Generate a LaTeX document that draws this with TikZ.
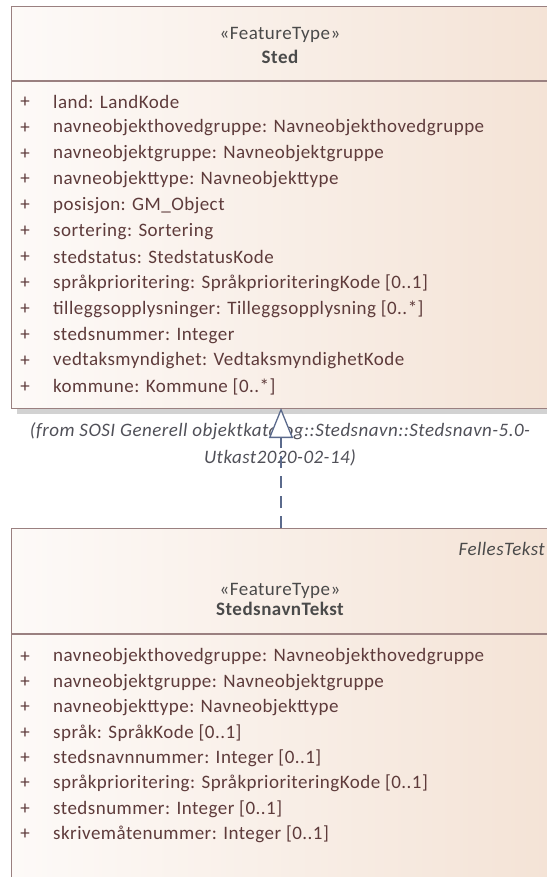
\documentclass[tikz,border=0pt]{standalone}
\usepackage{fontspec}
\setmainfont{Carlito}[LetterSpace=2.5]
\usetikzlibrary{arrows.meta}
\definecolor{bordc}{HTML}{9A8080}
\definecolor{fillL}{HTML}{FDFAF8}
\definecolor{fillR}{HTML}{F4E3D6}
\definecolor{attrc}{HTML}{5E3B3B}
\definecolor{headc}{HTML}{4A4A4A}
\definecolor{shadc}{HTML}{D2D2D2}
\definecolor{linkc}{HTML}{5B6A8C}
\definecolor{notec}{HTML}{505058}
\tikzset{
  classbox/.style={draw=bordc, line width=1.4pt, left color=fillL, right color=fillR, minimum width=538pt, inner sep=0pt, anchor=north west},
  txt/.style={inner sep=0pt, font=\fontsize{19}{22}\selectfont},
  attr/.style={txt, anchor=west, text=attrc},
  plus/.style={txt, text=attrc},
  stereo/.style={txt, text=headc},
  cname/.style={txt, text=headc, font=\fontsize{19}{22}\selectfont\bfseries},
  note/.style={txt, text=notec, font=\fontsize{19}{22}\selectfont\itshape},
  divider/.style={draw=bordc, line width=1.4pt},
  realize/.style={draw=linkc, line width=1.3pt, dash pattern=on 12pt off 8pt, -{Triangle[length=30pt, width=24pt, fill=white, line width=1.3pt]}}
}
\begin{document}
\begin{tikzpicture}[x=1pt, y=-1pt]
\useasboundingbox (0,0) rectangle (546,877);
% shadow of top box
\fill[shadc] (17,408) rectangle (560,414);
\node[classbox, minimum height=402pt] (sted) at (11,6) {};
\coordinate (d1) at (0,81);
\draw[divider] (sted.west |- d1) -- (sted.east |- d1);
\node[stereo] (st1) at (280,35) {«FeatureType»};
\node[cname] (n1) at (280,57) {Sted};
\foreach [count=\i] \t in {
  {land: LandKode},
  {navneobjekthovedgruppe: Navneobjekthovedgruppe},
  {navneobjektgruppe: Navneobjektgruppe},
  {navneobjekttype: Navneobjekttype},
  {posisjon: GM\_Object},
  {sortering: Sortering},
  {stedstatus: StedstatusKode},
  {språkprioritering: SpråkprioriteringKode [0..1]},
  {tilleggsopplysninger: Tilleggsopplysning [0..*]},
  {stedsnummer: Integer},
  {vedtaksmyndighet: VedtaksmyndighetKode},
  {kommune: Kommune [0..*]}} {
  \node[plus] (p1-\i) at (25,{102+(\i-1)*25.9}) {+};
  \node[attr] (a1-\i) at (53,{102+(\i-1)*25.9}) {\t};
}
% note text
\node[note] (from1) at (280,431) {(from SOSI Generell objektkatalog::Stedsnavn::Stedsnavn-5.0-};
\node[note] (from2) at (280,458) {Utkast2020-02-14)};
% bottom box
\node[classbox, minimum height=380pt] (snt) at (11,528) {};
\coordinate (d2) at (0,634);
\draw[divider] (snt.west |- d2) -- (snt.east |- d2);
\node[note, text=headc, anchor=east] (ft) at (545,549) {FellesTekst};
\node[stereo] (st2) at (280,591) {«FeatureType»};
\node[cname] (n2) at (280,609) {StedsnavnTekst};
\foreach [count=\i] \t in {
  {navneobjekthovedgruppe: Navneobjekthovedgruppe},
  {navneobjektgruppe: Navneobjektgruppe},
  {navneobjekttype: Navneobjekttype},
  {språk: SpråkKode [0..1]},
  {stedsnavnnummer: Integer [0..1]},
  {språkprioritering: SpråkprioriteringKode [0..1]},
  {stedsnummer: Integer [0..1]},
  {skrivemåtenummer: Integer [0..1]}} {
  \node[plus] (p2-\i) at (25,{657+(\i-1)*25.3}) {+};
  \node[attr] (a2-\i) at (53,{657+(\i-1)*25.3}) {\t};
}
% realization connector
\coordinate (ctop) at (281,408);
\draw[realize] (snt.north -| ctop) -- (ctop);
\end{tikzpicture}
\end{document}
